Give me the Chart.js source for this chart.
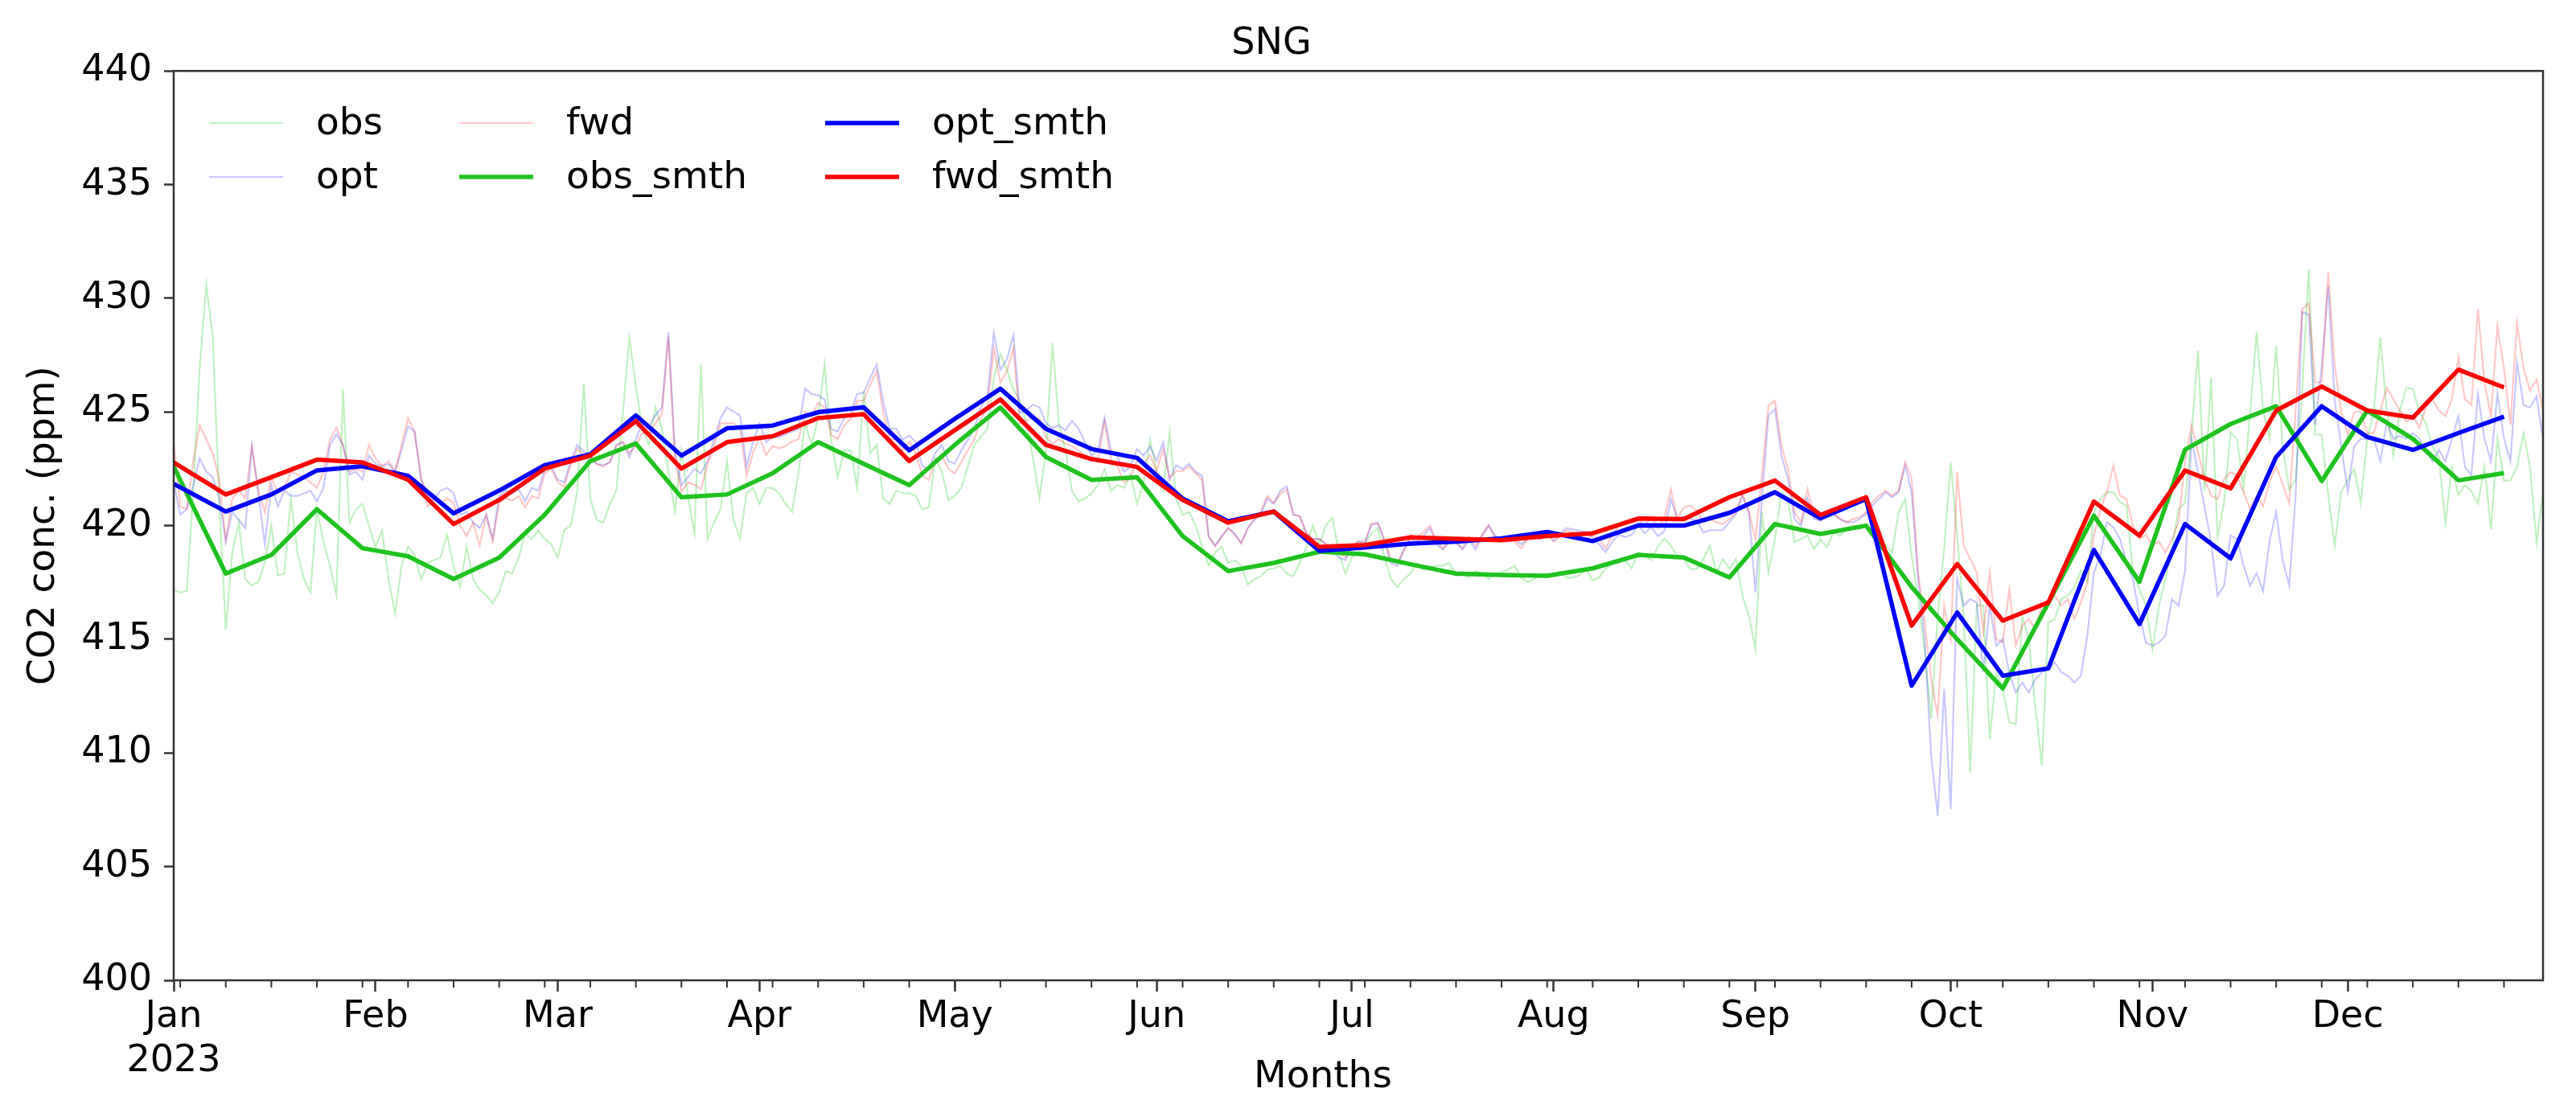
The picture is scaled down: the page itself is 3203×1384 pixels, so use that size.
<!DOCTYPE html>
<html><head><meta charset="utf-8">
<script src="https://cdn.jsdelivr.net/npm/chart.js@4.4.1/dist/chart.umd.min.js"></script>
<style>html,body{margin:0;padding:0;background:#fff;overflow:hidden}canvas{display:block}</style>
</head><body>
<canvas id="c" width="3203" height="1384"></canvas>
<script>
const chartTitle = 'SNG';
const xAxisTitle = 'Months';
const yAxisTitle = 'CO2 conc. (ppm)';
const yearLabel = '2023';
const monthTickDays = [0,31,59,90,120,151,181,212,243,273,304,334];
const monthTickLabels = ['Jan','Feb','Mar','Apr','May','Jun','Jul','Aug','Sep','Oct','Nov','Dec'];
const minorTickDays = [1,8,15,22,29,36,43,50,57,64,71,78,85,92,99,106,113,120,127,134,141,148,155,162,169,176,183,190,197,204,211,218,225,232,239,246,253,260,267,274,281,288,295,302,309,316,323,330,337,344,351,358];
const yTickValues = [400,405,410,415,420,425,430,435,440];
const seriesLabels = ['obs','opt','fwd','obs_smth','opt_smth','fwd_smth'];

// daily values, Jan 1 .. Dec 31 2023
const obsDaily = [417.18,417.06,417.12,421.5,427.0,430.6,428.3,421.0,
415.41,418.83,420.13,417.65,417.36,417.53,418.36,
420.0,417.8,417.9,421.19,418.83,417.65,417.06,
420.72,419.3,418.24,416.94,426.02,420.13,420.72,
420.95,420.0,419.07,419.77,417.65,416.12,418.24,
419.07,418.71,417.65,418.36,418.48,418.6,419.6,
418.24,417.3,419.07,417.65,417.18,416.94,416.59,
417.06,418.0,417.89,418.6,419.65,419.42,419.77,
419.42,419.18,418.6,419.8,420.0,421.5,426.26,
421.19,420.25,420.13,420.95,421.54,424.96,428.27,
426.14,424.26,423.55,425.2,424.26,422.37,420.6,
423.31,421.31,419.66,427.09,419.42,420.13,420.72,
422.84,420.25,419.42,421.42,421.66,420.95,421.66,
421.66,421.42,420.95,420.6,422.37,424.49,423.55,
424.73,427.09,423.78,422.13,423.31,423.31,421.66,
425.91,423.19,423.55,421.19,420.95,421.54,421.42,
421.42,421.31,420.72,420.8,422.96,422.4,421.13,
421.31,421.66,422.61,423.55,423.9,424.26,426.5,
427.56,426.85,426.0,425.5,424.5,423.0,421.19,
423.31,428.03,424.49,423.31,421.54,421.07,421.19,
421.42,421.78,422.49,421.54,421.78,421.66,422.25,
420.95,421.9,423.78,422.37,421.54,424.08,421.19,
420.48,420.6,420.01,419.07,418.24,418.83,419.07,
418.36,418.48,418.24,417.41,417.65,417.77,418.06,
418.12,418.24,417.89,417.77,418.36,419.07,420.01,
419.18,420.01,420.36,418.83,417.89,418.6,418.83,
419.18,419.66,419.89,418.6,417.65,417.3,417.65,
417.89,418.36,418.06,418.12,418.24,418.24,418.36,
417.77,417.89,417.71,418.0,417.89,417.65,417.89,
417.95,418.06,418.24,417.71,417.53,417.65,417.83,
417.89,417.77,418.0,417.71,417.71,417.83,418.06,
417.59,417.71,418.12,418.3,418.36,418.48,418.12,
418.83,418.71,418.48,419.07,419.42,419.12,418.68,
418.53,418.09,418.09,418.53,419.12,417.94,418.53,
418.09,418.53,416.92,416.04,414.57,420.59,417.94,
419.41,421.47,421.17,419.27,419.41,419.56,418.97,
419.41,419.05,419.7,419.56,419.85,420.0,419.85,
420.0,419.7,419.41,419.12,418.82,420.59,421.17,
418.68,416.8,414.5,411.5,416.0,419.0,422.79,
419.56,416.0,409.14,416.5,416.48,410.61,413.54,
412.81,411.34,411.27,416.0,415.0,412.07,409.43,
415.74,415.89,416.77,416.92,417.3,418.0,417.5,
420.59,421.17,421.47,421.47,421.03,420.88,417.94,
417.21,416.48,414.57,416.48,417.65,418.97,420.73,
421.0,424.0,427.7,421.5,426.5,419.5,421.0,
424.11,423.81,421.61,424.99,428.51,425.06,423.82,
427.92,423.5,421.59,422.0,426.0,431.27,424.0,
424.0,421.34,419.11,421.5,422.0,422.5,421.0,
423.82,425.06,428.29,425.06,423.08,425.06,426.06,
426.0,425.0,424.5,423.5,423.0,420.1,422.58,
421.34,421.8,421.5,420.97,422.58,419.85,423.82,
421.96,422.0,422.58,424.07,422.58,419.23,421.5];

const optDaily = [421.9,420.48,420.72,421.78,422.96,422.37,422.13,421.19,
419.3,420.6,420.25,419.89,423.49,421.42,419.18,
421.78,420.84,421.54,421.31,421.31,421.42,421.54,
421.07,421.66,423.55,424.02,423.55,422.25,422.37,
422.02,423.08,422.72,422.61,422.72,422.37,423.31,
424.37,424.14,422.02,421.42,421.19,421.54,421.66,
421.42,420.48,420.6,420.13,419.9,420.48,419.42,
421.3,421.54,421.42,421.6,421.07,421.66,421.54,
422.49,422.61,422.02,421.9,422.84,423.55,423.25,
423.08,422.72,422.66,422.78,423.55,423.67,423.02,
423.78,424.49,424.37,424.85,425.2,428.5,423.31,
421.78,422.13,422.5,422.3,422.84,423.78,424.73,
425.2,425.02,424.85,422.61,423.67,424.49,423.67,
423.9,423.9,424.02,424.14,424.26,426.03,425.79,
425.73,425.55,424.26,424.14,424.73,424.96,425.79,
425.85,426.5,427.09,425.44,424.26,424.26,423.78,
423.96,423.67,422.61,422.49,423.19,423.55,422.84,
422.72,423.31,423.78,424.26,425.2,425.67,428.5,
426.85,427.32,428.38,424.96,425.08,425.32,425.2,
424.5,424.3,424.4,424.2,424.61,424.26,423.67,
423.08,423.31,424.73,423.31,423.02,422.37,422.61,
423.37,423.08,423.49,422.84,423.67,422.02,422.66,
422.49,422.72,422.37,422.19,419.54,419.12,419.54,
419.89,419.66,419.24,419.89,420.25,420.48,421.19,
420.95,421.54,421.72,420.48,420.42,419.66,419.42,
419.42,419.18,418.9,418.6,418.48,419.07,419.3,
419.24,420.01,420.13,419.3,418.36,418.24,418.95,
419.42,419.3,419.54,419.89,419.18,418.95,419.3,
419.24,418.95,419.36,418.95,419.54,420.01,419.54,
419.42,419.48,419.42,419.18,419.42,419.48,419.42,
419.66,419.36,419.66,419.89,419.83,419.77,419.72,
419.48,419.18,418.83,419.3,419.6,419.5,419.6,
420.01,419.66,419.95,419.54,419.75,421.17,420.29,
420.4,420.3,420.2,419.7,419.8,419.8,419.8,
420.15,420.5,421.3,420.59,417.06,421.17,424.84,
425.13,423.08,422.05,420.29,420.0,421.17,420.29,
420.22,420.51,420.51,420.29,420.15,420.15,420.29,
420.51,420.88,421.17,421.47,421.25,421.47,422.64,
421.47,417.65,415.01,409.87,407.24,412.81,407.53,
417.65,416.48,416.77,416.62,413.54,416.48,414.72,
415.01,413.54,412.66,413.1,412.66,413.25,413.54,
413.69,413.98,413.54,413.4,413.1,413.4,415.16,
417.94,418.68,420.15,419.93,419.41,418.38,417.65,
416.04,414.86,414.72,414.86,415.16,416.77,416.48,
418.0,423.81,422.35,420.8,419.3,416.92,417.36,
419.56,419.41,418.24,417.36,417.9,417.12,419.36,
420.6,418.49,417.37,421.34,429.41,429.28,424.44,
427.0,430.53,425.5,423.5,421.5,423.5,423.82,
423.82,423.82,422.83,424.57,423.82,423.95,423.82,
424.07,423.82,423.33,422.83,423.33,422.83,423.82,
424.82,422.58,422.21,425.81,423.82,422.83,425.81,
423.82,422.83,427.18,425.31,425.19,425.69,423.82];

const fwdDaily = [423.67,420.84,420.72,422.84,424.43,423.78,423.19,422.01,
419.36,421.19,421.54,421.2,423.49,421.54,420.6,
422.13,421.42,421.66,422.37,422.25,422.13,421.9,
421.66,422.37,423.78,424.32,423.55,422.37,422.49,
422.37,423.55,422.96,422.61,422.84,422.37,423.55,
424.73,424.14,422.13,420.84,421.19,420.95,421.19,
421.0,420.0,419.54,420.13,419.12,420.48,419.3,
421.0,421.2,421.1,421.3,420.8,421.3,421.2,
422.3,422.5,421.9,421.7,422.7,423.4,423.1,
423.0,422.7,422.6,422.8,423.5,423.7,423.2,
423.5,424.1,424.0,424.5,424.9,428.3,422.9,
421.5,421.9,421.8,421.6,422.7,423.5,424.5,
424.5,424.5,424.3,422.2,423.2,423.9,423.1,
423.5,423.4,423.5,423.7,423.8,425.0,424.8,
425.4,425.2,424.0,423.8,424.4,424.7,425.5,
425.5,426.2,426.8,425.0,423.8,423.8,423.3,
423.7,423.2,422.2,422.0,422.9,423.1,422.5,
422.3,422.8,423.3,423.8,424.7,425.2,427.8,
426.3,426.8,427.8,424.5,424.6,424.8,424.7,
423.9,423.6,423.8,423.6,423.5,423.3,423.1,
422.9,422.9,424.6,422.9,422.6,421.9,422.1,
422.9,422.7,423.1,422.4,423.4,422.1,422.4,
422.4,422.6,422.3,422.0,419.5,419.1,419.5,
419.9,419.6,419.2,419.9,420.3,420.6,421.3,
421.0,421.4,421.6,420.5,420.4,419.7,419.4,
419.4,419.2,419.1,418.8,418.6,419.1,419.3,
419.3,420.1,420.1,419.4,418.5,418.4,418.9,
419.6,419.5,419.7,420.0,419.3,419.0,419.3,
419.3,419.0,419.5,419.1,419.6,420.0,419.5,
419.4,419.5,419.3,419.0,419.4,419.5,419.4,
419.6,419.3,419.5,419.8,419.7,419.5,419.4,
419.6,419.4,419.0,419.6,420.0,420.2,420.3,
420.3,420.0,420.4,419.9,420.3,421.61,420.29,
420.8,420.88,420.66,420.15,420.29,420.15,420.07,
420.29,420.6,421.4,420.59,419.4,422.2,425.28,
425.5,423.52,422.49,420.59,420.15,421.61,420.44,
420.29,420.59,420.51,420.29,420.15,420.29,420.37,
420.59,421.03,421.32,421.54,421.32,421.54,422.79,
422.05,417.94,415.74,413.25,411.64,416.48,415.01,
422.35,419.12,418.53,417.94,415.3,417.94,415.01,
414.86,417.21,414.72,415.6,415.89,415.45,416.48,
416.62,416.92,416.48,416.77,415.89,416.62,417.5,
419.56,420.73,421.47,422.64,421.32,421.17,420.0,
419.41,419.6,419.12,419.3,418.82,419.41,420.15,
422.79,424.4,423.23,422.05,421.32,421.17,422.05,
422.35,422.2,421.47,420.73,421.3,420.85,421.96,
422.58,421.84,420.97,425.07,429.53,429.78,426.3,
426.3,431.15,427.0,425.0,424.0,425.0,425.0,
424.07,424.07,425.07,426.06,425.56,425.07,424.57,
424.82,424.32,425.19,425.56,425.07,424.82,425.56,
427.42,425.56,425.31,429.53,426.3,424.82,428.79,
426.93,424.44,428.91,426.93,425.93,426.43,425.07];

// weekly smoothed values (day-of-year positions)
const smthDays = [0,8,15,22,29,36,43,50,57,64,71,78,85,92,99,106,113,120,127,134,141,148,155,162,169,176,183,190,197,204,211,218,225,232,239,246,253,260,267,274,281,288,295,302,309,316,323,330,337,344,351,358];
const obsSmth = [422.6,417.89,418.71,420.72,419.01,418.65,417.65,418.59,420.48,422.84,423.61,421.25,421.37,422.3,423.67,422.72,421.78,423.55,425.2,423.02,422.01,422.13,419.54,418.0,418.36,418.85,418.74,418.3,417.89,417.83,417.79,418.12,418.71,418.6,417.72,420.07,419.63,420.0,417.3,415.0,412.84,416.6,420.44,417.53,423.34,424.47,425.25,421.96,425.06,423.82,421.99,422.31];
const optSmth = [421.84,420.62,421.37,422.43,422.61,422.19,420.54,421.54,422.66,423.14,424.85,423.08,424.28,424.4,424.99,425.2,423.31,424.7,426.02,424.26,423.37,422.98,421.19,420.19,420.62,418.89,419.04,419.21,419.3,419.44,419.72,419.32,420.01,420.0,420.56,421.47,420.32,421.17,412.96,416.18,413.4,413.72,418.93,415.67,420.07,418.56,423.02,425.25,423.9,423.33,424.07,424.79];
const fwdSmth = [422.78,421.37,422.13,422.9,422.78,422.02,420.07,421.13,422.51,423.08,424.59,422.51,423.67,423.93,424.73,424.9,422.84,424.2,425.55,423.55,422.93,422.58,421.13,420.13,420.62,419.07,419.15,419.48,419.42,419.36,419.54,419.66,420.31,420.29,421.25,421.98,420.47,421.25,415.6,418.31,415.82,416.62,421.06,419.56,422.42,421.64,425.06,426.12,425.06,424.75,426.86,426.08];

const FONT = '"DejaVu Sans", "Liberation Sans", sans-serif';
const toPoints = (vals, days) => vals.map((v, i) => ({ x: days ? days[i] : i, y: v }));

const rawLine = (label, color, vals, order) => ({
  label, data: toPoints(vals), borderColor: color, backgroundColor: color,
  borderWidth: 2.2, pointRadius: 0, tension: 0, fill: false, order
});
const smthLine = (label, color, vals, order) => ({
  label, data: toPoints(vals, smthDays), borderColor: color, backgroundColor: color,
  borderWidth: 5.5, pointRadius: 0, tension: 0, fill: false, order, borderJoinStyle: 'round'
});

const framePlugin = {
  id: 'frame',
  afterDatasetsDraw(chart) {
    const { ctx, chartArea: a, scales: { x } } = chart;
    ctx.save();
    ctx.strokeStyle = '#333';
    ctx.lineWidth = 2.5;
    ctx.strokeRect(a.left, a.top, a.right - a.left, a.bottom - a.top);
    ctx.lineWidth = 2;
    ctx.beginPath();
    minorTickDays.forEach(d => {
      const px = x.getPixelForValue(d);
      ctx.moveTo(px, a.bottom);
      ctx.lineTo(px, a.bottom + 9);
    });
    ctx.stroke();
    // x axis label (matplotlib placement, slightly left of centre)
    ctx.fillStyle = '#000';
    ctx.font = '47px ' + FONT;
    ctx.textAlign = 'center';
    ctx.textBaseline = 'middle';
    ctx.fillText(xAxisTitle, (a.left + a.right) / 2 - 44, 1340);
    ctx.restore();
  }
};

const legendPlugin = {
  id: 'colLegend',
  afterDraw(chart) {
    const { ctx, chartArea: a } = chart;
    const columns = [['obs', 'opt'], ['fwd', 'obs_smth'], ['opt_smth', 'fwd_smth']];
    const colHandleX = [44, 355, 810];
    const rowY = [153, 220];
    const handleLen = 92, textGap = 41;
    ctx.save();
    ctx.font = '47px ' + FONT;
    ctx.textBaseline = 'middle';
    ctx.textAlign = 'left';
    columns.forEach((col, ci) => {
      col.forEach((name, ri) => {
        const ds = chart.data.datasets.find(d => d.label === name);
        const x0 = a.left + colHandleX[ci];
        const y = rowY[ri];
        ctx.strokeStyle = ds.borderColor;
        ctx.lineWidth = ds.borderWidth;
        ctx.beginPath();
        ctx.moveTo(x0, y);
        ctx.lineTo(x0 + handleLen, y);
        ctx.stroke();
        ctx.fillStyle = '#000';
        ctx.fillText(name, x0 + handleLen + textGap, y + 2);
      });
    });
    ctx.restore();
  }
};

new Chart(document.getElementById('c'), {
  type: 'line',
  data: {
    datasets: [
      rawLine(seriesLabels[0], 'rgba(50,205,50,0.3)', obsDaily, 6),
      rawLine(seriesLabels[1], 'rgba(0,0,255,0.22)', optDaily, 5),
      rawLine(seriesLabels[2], 'rgba(255,0,0,0.22)', fwdDaily, 4),
      smthLine(seriesLabels[3], '#1ec31e', obsSmth, 3),
      smthLine(seriesLabels[4], '#0000ff', optSmth, 2),
      smthLine(seriesLabels[5], '#ff0000', fwdSmth, 1)
    ]
  },
  options: {
    responsive: false,
    devicePixelRatio: 1,
    animation: false,
    events: [],
    layout: { padding: { left: 0, right: 41, top: 0, bottom: 0 } },
    plugins: {
      legend: { display: false },
      tooltip: { enabled: false },
      title: {
        display: true, text: chartTitle, color: '#000',
        font: { family: FONT, size: 46, weight: 'normal' },
        padding: { top: 27, bottom: 6 }
      }
    },
    scales: {
      x: {
        type: 'linear', min: 0, max: 364,
        afterBuildTicks: s => { s.ticks = monthTickDays.map(v => ({ value: v })); },
        afterFit: s => { s.height = 165; },
        ticks: {
          autoSkip: false, maxRotation: 0, minRotation: 0, padding: 4, color: '#000',
          font: { family: FONT, size: 46 },
          callback: v => {
            const i = monthTickDays.indexOf(v);
            if (i < 0) return '';
            return i === 0 ? [monthTickLabels[0], yearLabel] : monthTickLabels[i];
          }
        },
        grid: { drawOnChartArea: false, drawTicks: true, tickLength: 14, tickColor: '#333', tickWidth: 2.5 },
        border: { display: false },
        title: { display: false }
      },
      y: {
        min: 400, max: 440,
        afterBuildTicks: s => { s.ticks = yTickValues.map(v => ({ value: v })); },
        afterFit: s => { s.width = 216; },
        ticks: { padding: 15, color: '#000', font: { family: FONT, size: 46 } },
        grid: { drawOnChartArea: false, drawTicks: true, tickLength: 12, tickColor: '#333', tickWidth: 2.5 },
        border: { display: false },
        title: { display: true, text: yAxisTitle, color: '#000', font: { family: FONT, size: 47 }, padding: { top: 27, bottom: 4 } }
      }
    }
  },
  plugins: [framePlugin, legendPlugin]
});
</script>
</body></html>
